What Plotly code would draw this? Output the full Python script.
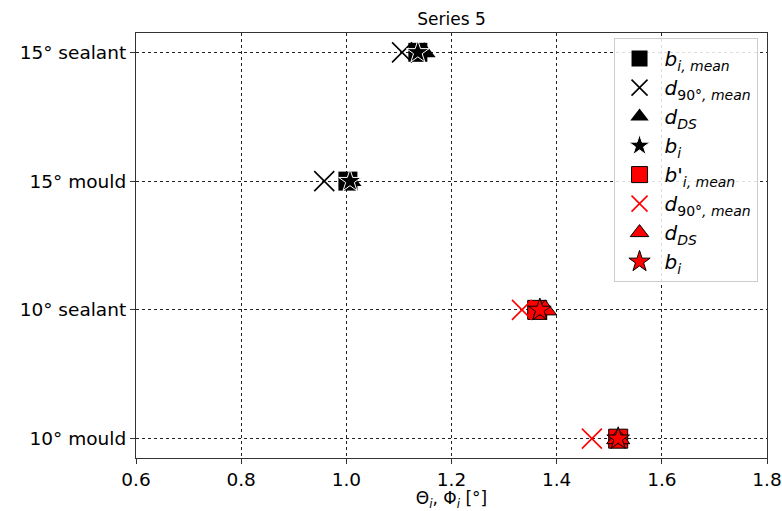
import plotly.graph_objects as go

categories = ["10° mould", "10° sealant", "15° mould", "15° sealant"]
b_mean = [1.517, 1.363, 1.003, 1.136]
d90_mean = [1.467, 1.334, 0.958, 1.106]
d_ds = [1.517, 1.378, 1.007, 1.148]
b_i = [1.517, 1.368, 1.007, 1.136]

black_idx = [2, 3]
red_idx = [0, 1]

def pick(arr, idx):
    return [arr[i] for i in idx]

fig = go.Figure()

lbl_bmean = "<i>b</i><sub><i>i, mean</i></sub>"
lbl_bpmean = "<i>b'</i><sub><i>i, mean</i></sub>"
lbl_d90 = "<i>d</i><sub>90°<i>, mean</i></sub>"
lbl_dds = "<i>d</i><sub><i>DS</i></sub>"
lbl_bi = "<i>b</i><sub><i>i</i></sub>"

# black series (15°)
fig.add_trace(go.Scatter(x=pick(b_mean, black_idx), y=pick(categories, black_idx), mode="markers",
                         name=lbl_bmean, marker=dict(symbol="square", size=19, color="black")))
fig.add_trace(go.Scatter(x=pick(d90_mean, black_idx), y=pick(categories, black_idx), mode="markers",
                         name=lbl_d90, marker=dict(symbol="x-thin", size=20, color="black",
                                                   line=dict(color="black", width=1.6))))
fig.add_trace(go.Scatter(x=pick(d_ds, black_idx), y=pick(categories, black_idx), mode="markers",
                         name=lbl_dds, marker=dict(symbol="triangle-up", size=20, color="black")))
fig.add_trace(go.Scatter(x=pick(b_i, black_idx), y=pick(categories, black_idx), mode="markers",
                         name=lbl_bi, marker=dict(symbol="star", size=17, color="black",
                                                  line=dict(color="white", width=1))))
# red series (10°)
fig.add_trace(go.Scatter(x=pick(b_mean, red_idx), y=pick(categories, red_idx), mode="markers",
                         name=lbl_bpmean, marker=dict(symbol="square", size=19, color="red",
                                                      line=dict(color="black", width=1))))
fig.add_trace(go.Scatter(x=pick(d90_mean, red_idx), y=pick(categories, red_idx), mode="markers",
                         name=lbl_d90, marker=dict(symbol="x-thin", size=20, color="red",
                                                   line=dict(color="red", width=1.6))))
fig.add_trace(go.Scatter(x=pick(d_ds, red_idx), y=pick(categories, red_idx), mode="markers",
                         name=lbl_dds, marker=dict(symbol="triangle-up", size=20, color="red",
                                                   line=dict(color="black", width=1))))
fig.add_trace(go.Scatter(x=pick(b_i, red_idx), y=pick(categories, red_idx), mode="markers",
                         name=lbl_bi, marker=dict(symbol="star", size=17, color="red",
                                                  line=dict(color="black", width=1))))

axis_common = dict(showline=True, mirror=True, linecolor="#333", linewidth=1.2,
                   ticks="outside", ticklen=5, tickcolor="#333",
                   showgrid=True, gridcolor="#222", griddash="dot", gridwidth=1,
                   zeroline=False, automargin=False, tickfont=dict(size=18.5, color="black"))

fig.update_layout(
    width=782, height=511,
    margin=dict(l=136, r=15, t=33, b=53),
    paper_bgcolor="white", plot_bgcolor="white",
    font=dict(family="DejaVu Sans", color="black"),
    title=dict(text="Series 5", xref="paper", x=0.5, xanchor="center",
               yref="container", y=0.963, yanchor="middle",
               font=dict(size=17, color="black")),
    xaxis=dict(range=[0.6, 1.8], dtick=0.2, tickformat=".1f",
               title=dict(text="Θ<sub><i>i</i></sub>, Φ<sub><i>i</i></sub> [°]", font=dict(size=17), standoff=0),
               **axis_common),
    yaxis=dict(type="category", categoryorder="array", categoryarray=categories,
               range=[-0.15, 3.15], **axis_common),
    legend=dict(x=0.985, xanchor="right", y=0.988, yanchor="top",
                bgcolor="rgba(255,255,255,0.85)", bordercolor="#ccc", borderwidth=1,
                font=dict(size=20), tracegroupgap=0, itemwidth=40),
    showlegend=True,
)

fig.write_html("out.html", config={"displayModeBar": False},
               post_script="document.body.style.margin='0';")
